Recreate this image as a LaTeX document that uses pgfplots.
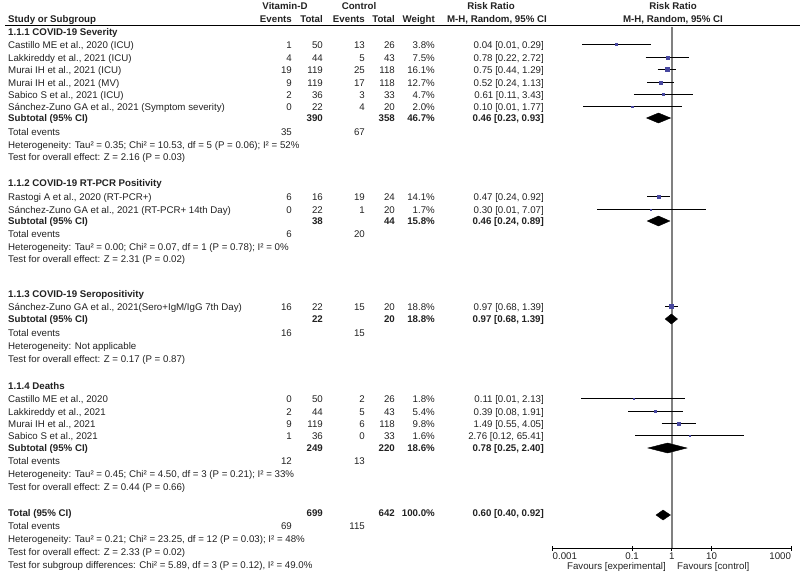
\documentclass[border=0pt]{standalone}
\usepackage{fontspec}
\setmainfont{Liberation Sans}
\usepackage{pgfplots}
\pgfplotsset{compat=1.18}
\definecolor{txt}{HTML}{222222}
\definecolor{sq}{HTML}{4848A0}
\newcommand{\fs}{\fontsize{9.7}{11}\selectfont}
\begin{document}
\begin{tikzpicture}
\path[use as bounding box] (0,0) rectangle (800pt,-576pt);
\begin{scope}[x=1pt,y=-1pt, every node/.style={font=\fs, text=txt, inner sep=0pt}]
% headers
\node[anchor=mid] at (285,7) {\bfseries Vitamin-D};
\node[anchor=mid] at (359,7) {\bfseries Control};
\node[anchor=mid] at (491,7) {\bfseries Risk Ratio};
\node[anchor=mid] at (673,7) {\bfseries Risk Ratio};
\node[anchor=mid west] at (8,20) {\bfseries Study or Subgroup};
\node[anchor=mid east] at (292,20) {\bfseries Events};
\node[anchor=mid east] at (323,20) {\bfseries Total};
\node[anchor=mid east] at (365,20) {\bfseries Events};
\node[anchor=mid east] at (395,20) {\bfseries Total};
\node[anchor=mid east] at (435,20) {\bfseries Weight};
\node[anchor=mid east] at (547,20) {\bfseries M-H, Random, 95\% CI};
\node[anchor=mid] at (673,20) {\bfseries M-H, Random, 95\% CI};
\draw[black, line width=1pt] (5,25) -- (800,25);
% group 1
\node[anchor=mid west] at (8,33) {\bfseries 1.1.1 COVID-19 Severity};
\foreach \y/\n/\a/\b/\c/\d/\w/\r in {
 46/{Castillo ME et al., 2020 (ICU)}/1/50/13/26/3.8/{0.04 [0.01, 0.29]},
 59/{Lakkireddy et al., 2021 (ICU)}/4/44/5/43/7.5/{0.78 [0.22, 2.72]},
 71/{Murai IH et al., 2021 (ICU)}/19/119/25/118/16.1/{0.75 [0.44, 1.29]},
 84/{Murai IH et al., 2021 (MV)}/9/119/17/118/12.7/{0.52 [0.24, 1.13]},
 96/{Sabico S et al., 2021 (ICU)}/2/36/3/33/4.7/{0.61 [0.11, 3.43]},
 108/{Sánchez-Zuno GA et al., 2021 (Symptom severity)}/0/22/4/20/2.0/{0.10 [0.01, 1.77]},
 198/{Rastogi A et al., 2020 (RT-PCR+)}/6/16/19/24/14.1/{0.47 [0.24, 0.92]},
 211/{Sánchez-Zuno GA et al., 2021 (RT-PCR+ 14th Day)}/0/22/1/20/1.7/{0.30 [0.01, 7.07]},
 308/{Sánchez-Zuno GA et al., 2021(Sero+IgM/IgG 7th Day)}/16/22/15/20/18.8/{0.97 [0.68, 1.39]},
 400/{Castillo ME et al., 2020}/0/50/2/26/1.8/{0.11 [0.01, 2.13]},
 413/{Lakkireddy et al., 2021}/2/44/5/43/5.4/{0.39 [0.08, 1.91]},
 425/{Murai IH et al., 2021}/9/119/6/118/9.8/{1.49 [0.55, 4.05]},
 437/{Sabico S et al., 2021}/1/36/0/33/1.6/{2.76 [0.12, 65.41]}}{
 \node[anchor=mid west] at (8,\y) {\n};
 \node[anchor=mid east] at (292,\y) {\a};
 \node[anchor=mid east] at (323,\y) {\b};
 \node[anchor=mid east] at (365,\y) {\c};
 \node[anchor=mid east] at (395,\y) {\d};
 \node[anchor=mid east] at (435,\y) {\w\%};
 \node[anchor=mid east] at (544,\y) {\r};
}
% subtotals
\foreach \y/\n/\b/\d/\w/\r in {
 119/{Subtotal (95\% CI)}/390/358/46.7/{0.46 [0.23, 0.93]},
 222/{Subtotal (95\% CI)}/38/44/15.8/{0.46 [0.24, 0.89]},
 320/{Subtotal (95\% CI)}/22/20/18.8/{0.97 [0.68, 1.39]},
 449/{Subtotal (95\% CI)}/249/220/18.6/{0.78 [0.25, 2.40]},
 514/{Total (95\% CI)}/699/642/100.0/{0.60 [0.40, 0.92]}}{
 \node[anchor=mid west] at (8,\y) {\bfseries \n};
 \node[anchor=mid east] at (323,\y) {\bfseries \b};
 \node[anchor=mid east] at (395,\y) {\bfseries \d};
 \node[anchor=mid east] at (435,\y) {\bfseries \w\%};
 \node[anchor=mid east] at (544,\y) {\bfseries \r};
}
% total events
\foreach \y/\a/\c in {133/35/67, 235/6/20, 334/16/15, 462/12/13, 527/69/115}{
 \node[anchor=mid west] at (8,\y) {Total events};
 \node[anchor=mid east] at (292,\y) {\a};
 \node[anchor=mid east] at (365,\y) {\c};
}
\node[anchor=mid west] at (8,146) {Heterogeneity: Tau² = 0.35; Chi² = 10.53, df = 5 (P = 0.06); I² = 52\%};
\node[anchor=mid west] at (8,158) {Test for overall effect: Z = 2.16 (P = 0.03)};
\node[anchor=mid west] at (8,184) {\bfseries 1.1.2 COVID-19 RT-PCR Positivity};
\node[anchor=mid west] at (8,248) {Heterogeneity: Tau² = 0.00; Chi² = 0.07, df = 1 (P = 0.78); I² = 0\%};
\node[anchor=mid west] at (8,260) {Test for overall effect: Z = 2.31 (P = 0.02)};
\node[anchor=mid west] at (8,295) {\bfseries 1.1.3 COVID-19 Seropositivity};
\node[anchor=mid west] at (8,347) {Heterogeneity: Not applicable};
\node[anchor=mid west] at (8,360) {Test for overall effect: Z = 0.17 (P = 0.87)};
\node[anchor=mid west] at (8,387) {\bfseries 1.1.4 Deaths};
\node[anchor=mid west] at (8,475) {Heterogeneity: Tau² = 0.45; Chi² = 4.50, df = 3 (P = 0.21); I² = 33\%};
\node[anchor=mid west] at (8,488) {Test for overall effect: Z = 0.44 (P = 0.66)};
\node[anchor=mid west] at (8,540) {Heterogeneity: Tau² = 0.21; Chi² = 23.25, df = 12 (P = 0.03); I² = 48\%};
\node[anchor=mid west] at (8,553) {Test for overall effect: Z = 2.33 (P = 0.02)};
\node[anchor=mid west] at (8,566) {Test for subgroup differences: Chi² = 5.89, df = 3 (P = 0.12), I² = 49.0\%};
\node[anchor=mid east] at (666,567) {Favours [experimental]};
\node[anchor=mid west] at (677,567) {Favours [control]};
\end{scope}
\begin{axis}[at={(552.7pt,-548pt)}, anchor=south west, scale only axis,
 width=238.3pt, height=521pt, xmode=log, xmin=0.001, xmax=1000,
 ymin=-548, ymax=-27, hide y axis, axis x line*=bottom,
 x axis line style={-, black, line width=0.8pt},
 xtick={0.001,0.1,1,10,1000},
 xticklabels={\makebox[0pt][l]{0.001},0.1,1,10,\makebox[0pt][r]{1000}},
 xtick align=center, major tick length=5pt, minor x tick style={draw=none},
 xtick style={black, line width=0.8pt},
 xticklabel style={font=\fs, text=txt, inner sep=2.5pt},
 clip=false]
\draw[color=gray, line width=1.3pt] (axis cs:1,-27) -- (axis cs:1,-548);
% confidence intervals
\addplot[black, line width=0.7pt] coordinates {(0.0055,-44.5) (0.29,-44.5)};
\addplot[black, line width=0.7pt] coordinates {(0.22,-57.5) (2.72,-57.5)};
\addplot[black, line width=0.7pt] coordinates {(0.44,-69.5) (1.29,-69.5)};
\addplot[black, line width=0.7pt] coordinates {(0.24,-82.5) (1.13,-82.5)};
\addplot[black, line width=0.7pt] coordinates {(0.11,-94.5) (3.43,-94.5)};
\addplot[black, line width=0.7pt] coordinates {(0.0058,-106.5) (1.77,-106.5)};
\addplot[black, line width=0.7pt] coordinates {(0.24,-196.5) (0.92,-196.5)};
\addplot[black, line width=0.7pt] coordinates {(0.0131,-209.5) (7.07,-209.5)};
\addplot[black, line width=0.7pt] coordinates {(0.68,-306.5) (1.39,-306.5)};
\addplot[black, line width=0.7pt] coordinates {(0.0053,-398.5) (2.13,-398.5)};
\addplot[black, line width=0.7pt] coordinates {(0.08,-411.5) (1.91,-411.5)};
\addplot[black, line width=0.7pt] coordinates {(0.55,-423.5) (4.05,-423.5)};
\addplot[black, line width=0.7pt] coordinates {(0.12,-435.5) (65.41,-435.5)};
% study squares
\addplot[only marks, mark=square*, mark size=0.9, color=sq] coordinates {(0.04,-44.5)};
\addplot[only marks, mark=square*, mark size=1.26, color=sq] coordinates {(0.78,-57.5)};
\addplot[only marks, mark=square*, mark size=1.85, color=sq] coordinates {(0.75,-69.5)};
\addplot[only marks, mark=square*, mark size=1.64, color=sq] coordinates {(0.52,-82.5)};
\addplot[only marks, mark=square*, mark size=1.0, color=sq] coordinates {(0.61,-94.5)};
\addplot[only marks, mark=square*, mark size=0.65, color=sq] coordinates {(0.10,-106.5)};
\addplot[only marks, mark=square*, mark size=1.73, color=sq] coordinates {(0.47,-196.5)};
\addplot[only marks, mark=square*, mark size=0.6, color=sq] coordinates {(0.30,-209.5)};
\addplot[only marks, mark=square*, mark size=2.0, color=sq] coordinates {(0.97,-306.5)};
\addplot[only marks, mark=square*, mark size=0.62, color=sq] coordinates {(0.11,-398.5)};
\addplot[only marks, mark=square*, mark size=1.07, color=sq] coordinates {(0.39,-411.5)};
\addplot[only marks, mark=square*, mark size=1.44, color=sq] coordinates {(1.49,-423.5)};
\addplot[only marks, mark=square*, mark size=0.58, color=sq] coordinates {(2.76,-435.5)};
% diamonds
\addplot[fill=black, draw=black] coordinates {(0.23,-118) (0.46,-113) (0.93,-118) (0.46,-123)} -- cycle;
\addplot[fill=black, draw=black] coordinates {(0.24,-221) (0.46,-216) (0.89,-221) (0.46,-226)} -- cycle;
\addplot[fill=black, draw=black] coordinates {(0.68,-319) (0.97,-314) (1.39,-319) (0.97,-324)} -- cycle;
\addplot[fill=black, draw=black] coordinates {(0.25,-448) (0.78,-443) (2.40,-448) (0.78,-453)} -- cycle;
\addplot[fill=black, draw=black] coordinates {(0.40,-515) (0.60,-510) (0.92,-515) (0.60,-520)} -- cycle;
\end{axis}
\end{tikzpicture}
\end{document}
